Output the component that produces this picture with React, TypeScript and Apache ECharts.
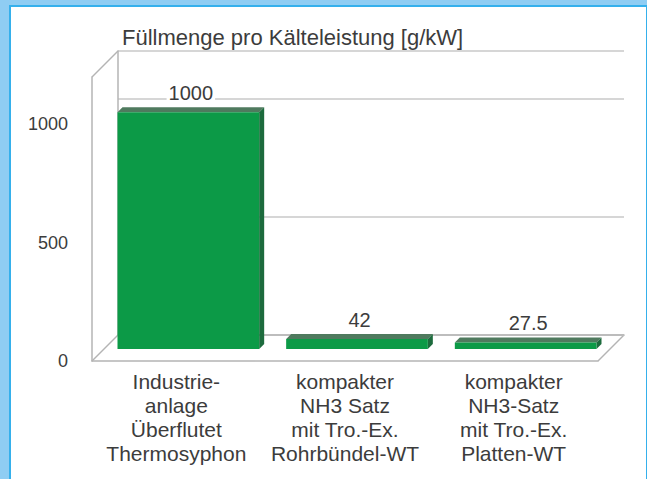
import React, { useEffect, useRef } from "react";
import * as echarts from "echarts";

const titleText = "Füllmenge pro Kälteleistung [g/kW]";
const categories = [
  "Industrie-\nanlage\nÜberflutet\nThermosyphon",
  "kompakter\nNH3 Satz\nmit Tro.-Ex.\nRohrbündel-WT",
  "kompakter\nNH3-Satz\nmit Tro.-Ex.\nPlatten-WT",
];
const values = [1000, 42, 27.5];
const valueLabels = ["1000", "42", "27.5"];
const yTicks = [0, 500, 1000];
const yMax = 1200;

// layout
const W = 647;
const H = 479;
const FL = 92; // front plane left
const FR = 598; // front plane right
const FB = 361; // front plane bottom (value 0)
const FT = 77; // front plane top (value yMax)
const DEPTH = 26;
const FONT = "'Liberation Sans', Arial, Helvetica, sans-serif";
const TEXT = "#3c3c3c";
const LINE = "#b4b4b4";

export default function App() {
  const ref = useRef<HTMLDivElement>(null);
  useEffect(() => {
    if (!ref.current) return;
    const chart = echarts.init(ref.current, undefined, { renderer: "svg" });
    const axisLineStyle = { color: LINE, width: 1.5 };
    chart.setOption({
      animation: false,
      backgroundColor: "transparent",
      textStyle: { fontFamily: FONT },
      title: {
        text: titleText,
        left: 117,
        top: 21,
        textStyle: { fontSize: 22, fontWeight: "normal", color: TEXT, fontFamily: FONT },
      },
      grid: [
        { left: FL, right: W - FR, top: FT, bottom: H - FB },
        { left: FL + DEPTH, right: W - FR - DEPTH, top: FT - DEPTH, bottom: H - FB + DEPTH },
      ],
      xAxis: [
        {
          type: "category",
          gridIndex: 0,
          data: categories,
          axisLine: { show: true, lineStyle: axisLineStyle },
          axisTick: { show: false },
          axisLabel: {
            interval: 0,
            margin: 8,
            fontSize: 21,
            lineHeight: 24,
            color: TEXT,
            fontFamily: FONT,
          },
        },
        {
          type: "category",
          gridIndex: 1,
          data: categories,
          axisLine: { show: true, lineStyle: axisLineStyle },
          axisTick: { show: false },
          axisLabel: { show: false },
        },
      ],
      yAxis: [
        {
          type: "value",
          gridIndex: 0,
          min: 0,
          max: yMax,
          interval: 500,
          axisLine: { show: true, lineStyle: axisLineStyle },
          axisTick: { show: false },
          splitLine: { show: false },
          axisLabel: {
            margin: 24,
            fontSize: 18,
            color: TEXT,
            fontFamily: FONT,
            formatter: (v: number) => (yTicks.includes(v) ? String(v) : ""),
          },
        },
        {
          type: "value",
          gridIndex: 1,
          min: 0,
          max: yMax,
          interval: 500,
          axisLine: { show: true, lineStyle: axisLineStyle },
          axisTick: { show: false },
          axisLabel: { show: false },
          splitLine: { show: true, lineStyle: { color: "#d6d6d6", width: 2 } },
        },
      ],
      graphic: [
        { type: "line", shape: { x1: FL, y1: FT, x2: FL + DEPTH, y2: FT - DEPTH }, style: { stroke: LINE, lineWidth: 1.5 } },
        { type: "line", shape: { x1: FL, y1: FB, x2: FL + DEPTH, y2: FB - DEPTH }, style: { stroke: LINE, lineWidth: 1.5 } },
        { type: "line", shape: { x1: FR, y1: FB, x2: FR + DEPTH, y2: FB - DEPTH }, style: { stroke: LINE, lineWidth: 1.5 } },
      ],
      series: [
        {
          type: "custom",
          xAxisIndex: 0,
          yAxisIndex: 0,
          z: 10,
          data: values.map((v, i) => [i, v]),
          renderItem: (params: any, api: any) => {
            const idx = api.value(0);
            const base = api.coord([idx, 0]);
            const top = api.coord([idx, api.value(1)]);
            const band = api.size([1, 0])[0];
            const bw = band * 0.84;
            const off = 12;
            const d = 5;
            const x0 = base[0] + off - bw / 2;
            const x1 = x0 + bw;
            const yb = base[1] - off;
            const yt = top[1] - off;
            return {
              type: "group",
              children: [
                {
                  type: "polygon",
                  shape: { points: [[x0, yt], [x1, yt], [x1 + d, yt - d], [x0 + d, yt - d]] },
                  style: { fill: "#4f7a5e" },
                },
                {
                  type: "polygon",
                  shape: { points: [[x1, yt], [x1 + d, yt - d], [x1 + d, yb - d], [x1, yb]] },
                  style: { fill: "#1d6b3d" },
                },
                {
                  type: "rect",
                  shape: { x: x0, y: yt, width: bw, height: yb - yt },
                  style: { fill: "#0c9a47" },
                },
                {
                  type: "text",
                  x: (x0 + x1 + d) / 2,
                  y: yt - d - 14,
                  style: {
                    text: valueLabels[params.dataIndex],
                    fontSize: 20,
                    fontFamily: FONT,
                    fill: TEXT,
                    align: "center",
                    verticalAlign: "middle",
                    backgroundColor: "#ffffff",
                    padding: [0, 2],
                  },
                },
              ],
            };
          },
        },
      ],
    });
    return () => chart.dispose();
  }, []);

  return (
    <div style={{ position: "fixed", left: 0, top: 0, width: W, height: H, background: "#8fcdf3", overflow: "hidden" }}>
      <div
        style={{
          position: "absolute",
          left: 9,
          top: 5,
          width: W - 9 - 3,
          height: H,
          background: "#ffffff",
          borderLeft: "2px solid #35b0ec",
          borderTop: "2px solid #35b0ec",
          borderRight: "1px solid #35b0ec",
        }}
      />
      <div ref={ref} style={{ position: "absolute", left: 0, top: 0, width: W, height: H }} />
    </div>
  );
}
